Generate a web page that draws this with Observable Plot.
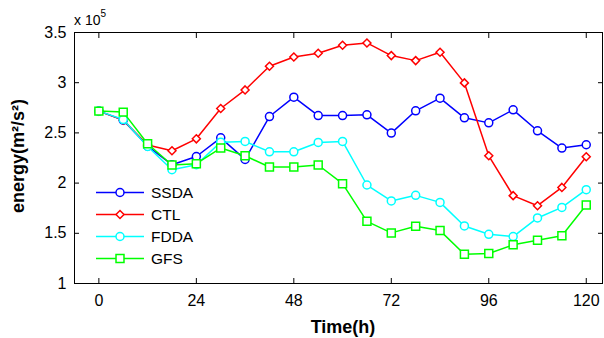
<!DOCTYPE html>
<html><head><meta charset="utf-8">
<script src="https://cdn.jsdelivr.net/npm/d3@7"></script>
<script src="https://cdn.jsdelivr.net/npm/@observablehq/plot@0.6"></script>
<style>
body{margin:0;background:#fff;font-family:"Liberation Sans",Arial,sans-serif}
#chart{position:relative;width:604px;height:338px}
</style>
</head><body><div id="chart"></div>
<script>
const hours = [0,6,12,18,24,30,36,42,48,54,60,66,72,78,84,90,96,102,108,114,120];
const ssda = [2.717,2.627,2.369,2.183,2.265,2.451,2.236,2.663,2.856,2.673,2.673,2.680,2.498,2.720,2.846,2.650,2.600,2.730,2.521,2.349,2.382];
const ctl  = [2.717,2.627,2.379,2.322,2.441,2.743,2.928,3.164,3.256,3.293,3.373,3.396,3.270,3.220,3.303,2.998,2.272,1.875,1.775,1.957,2.262];
const fdda = [2.717,2.633,2.365,2.133,2.183,2.408,2.415,2.312,2.312,2.405,2.415,1.981,1.822,1.878,1.808,1.573,1.490,1.467,1.653,1.758,1.934];
const gfs  = [2.717,2.707,2.392,2.180,2.193,2.349,2.272,2.160,2.160,2.180,1.994,1.619,1.504,1.570,1.527,1.291,1.298,1.385,1.430,1.475,1.782];
const seriesNames = ["SSDA","CTL","FDDA","GFS"];
const seriesColors = ["#0000ff","#ff0000","#00ffff","#00ff00"];
const seriesSymbols = ["circle","diamond2","circle","square"];
const seriesRadius = [4,3.6,4,4.5];
const xTicks = [0,24,48,72,96,120];
const yTicks = [1,1.5,2,2.5,3,3.5];
const xLabel = "Time(h)";
const yLabel = "energy(m²/s²)";

const allValues = [ssda, ctl, fdda, gfs];
const rows = [];
seriesNames.forEach((name, i) => hours.forEach((h, j) => rows.push({series: name, hour: h, value: allValues[i][j]})));

const TK = 5; // inward tick length
const marks = [Plot.frame({stroke: "black", strokeWidth: 1})];
// labels
marks.push(Plot.axisX({ticks: xTicks, tickSize: 0, tickPadding: 11, fontSize: 16, label: null}));
marks.push(Plot.axisY({ticks: yTicks, tickSize: 0, tickPadding: 8, fontSize: 16, label: null, tickFormat: d => String(d)}));
// inward ticks on all sides (outward ticks shifted inside)
marks.push(Plot.axisX({anchor: "bottom", ticks: xTicks, tickSize: TK, dy: -TK, tickFormat: () => "", label: null}));
marks.push(Plot.axisX({anchor: "top", ticks: xTicks, tickSize: TK, dy: TK, tickFormat: () => "", label: null}));
marks.push(Plot.axisY({anchor: "left", ticks: yTicks, tickSize: TK, dx: TK, tickFormat: () => "", label: null}));
marks.push(Plot.axisY({anchor: "right", ticks: yTicks, tickSize: TK, dx: -TK, tickFormat: () => "", label: null}));

seriesNames.forEach((name, i) => {
  const d = rows.filter(r => r.series === name);
  marks.push(Plot.line(d, {x: "hour", y: "value", stroke: seriesColors[i], strokeWidth: 1.5}));
  marks.push(Plot.dot(d, {x: "hour", y: "value", stroke: seriesColors[i], fill: "white", strokeWidth: 1.5, symbol: seriesSymbols[i], r: seriesRadius[i]}));
});

const plot = Plot.plot({
  width: 604, height: 338,
  marginLeft: 74, marginRight: 2, marginTop: 32, marginBottom: 55,
  style: {fontFamily: "'Liberation Sans', Arial, sans-serif", color: "black", background: "white"},
  x: {domain: [-6, 124]},
  y: {domain: [1, 3.5]},
  marks
});
document.getElementById("chart").appendChild(plot);

const svg = d3.select(plot);
// exponent label
const ex = svg.append("text").attr("x", 74).attr("y", 25).attr("text-anchor", "start")
  .style("font-size", "14px").attr("fill", "black");
ex.append("tspan").text("x 10");
ex.append("tspan").attr("dy", -8).style("font-size", "10px").text("5");
// axis titles
svg.append("text").attr("x", 343).attr("y", 333).attr("text-anchor", "middle")
  .style("font-size", "18px").style("font-weight", "bold").attr("fill", "black").text(xLabel);
svg.append("text").attr("transform", "translate(24,156) rotate(-90)").attr("text-anchor", "middle")
  .style("font-size", "18px").style("font-weight", "bold").attr("fill", "black").text(yLabel);

// legend
const symbolMap = {circle: d3.symbolCircle, diamond2: d3.symbolDiamond2, square: d3.symbolSquare};
const lg = svg.append("g");
seriesNames.forEach((name, i) => {
  const yy = 192.5 + 22 * i;
  lg.append("line").attr("x1", 96).attr("x2", 144).attr("y1", yy).attr("y2", yy)
    .attr("stroke", seriesColors[i]).attr("stroke-width", 1.5);
  lg.append("path").attr("transform", `translate(120,${yy})`)
    .attr("d", d3.symbol(symbolMap[seriesSymbols[i]], Math.PI * seriesRadius[i] ** 2)())
    .attr("fill", "white").attr("stroke", seriesColors[i]).attr("stroke-width", 1.5);
  lg.append("text").attr("x", 151).attr("y", yy).attr("dy", "0.36em").attr("text-anchor", "start")
    .style("font-size", "15.5px").attr("fill", "black").text(name);
});
</script>
</body></html>
